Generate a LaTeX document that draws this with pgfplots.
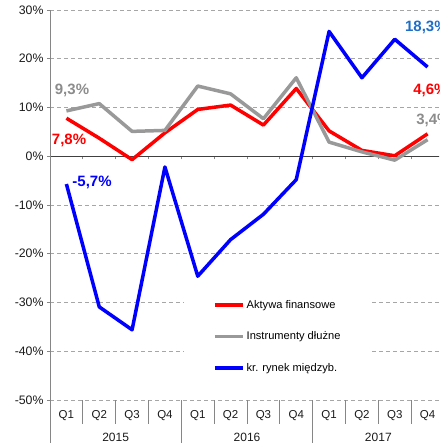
\documentclass[border=0pt]{standalone}
\usepackage{fontspec}
\setmainfont{Liberation Sans}
\usepackage{pgfplots}
\pgfplotsset{compat=1.18}
\definecolor{aktred}{RGB}{255,0,0}
\definecolor{instgray}{RGB}{153,153,153}
\definecolor{rynblue}{RGB}{0,0,255}
\definecolor{lblgray}{RGB}{140,140,140}
\definecolor{lblblue}{RGB}{30,110,200}
\definecolor{gridgray}{RGB}{166,166,166}
\definecolor{axgray}{RGB}{134,134,134}
\definecolor{txt}{RGB}{26,26,26}

\begin{document}
\begin{tikzpicture}[x=1pt,y=1pt]
\useasboundingbox (0,0) rectangle (439,443);
\clip (0,0) rectangle (439,443);
\begin{axis}[
  at={(50pt,43pt)}, anchor=south west,
  width=394pt, height=390pt, scale only axis,
  xmin=0.5, xmax=12.5, ymin=-50, ymax=30,
  axis x line*=middle, axis y line*=left,
  x axis line style={draw=black!75, line width=1pt},
  y axis line style={draw=axgray, line width=1pt},
  xtick={0.5,1.5,...,12.5}, xticklabels={},
  xtick align=outside,
  ytick={-50,-40,...,30},
  yticklabels={-50\%,-40\%,-30\%,-20\%,-10\%,0\%,10\%,20\%,30\%},
  ytick align=outside,
  major tick length=3pt,
  tick style={draw=axgray, line width=0.8pt},
  ymajorgrids,
  grid style={draw=gridgray, line width=0.9pt, dash pattern=on 4pt off 3pt},
  yticklabel style={font=\fontsize{12.3}{14}\selectfont, text=txt},
  clip=false,
  legend style={at={(rel axis cs:0.340,0.287)}, anchor=north west,
    draw=none, fill=white, font=\fontsize{11.1}{13}\selectfont,
    inner xsep=29pt, inner ysep=10pt, row sep=18pt},
  legend cell align=left,
  legend image code/.code={\draw[#1] (0pt,0pt) -- (28pt,0pt);},
  every axis plot/.append style={line width=3.5pt, line join=round},
]
\addplot[aktred] coordinates {
  (1,7.8) (2,3.7) (3,-0.7) (4,4.8) (5,9.6) (6,10.5)
  (7,6.4) (8,13.9) (9,5.2) (10,1.2) (11,0.1) (12,4.6)
};
\addlegendentry{Aktywa finansowe}
\addplot[instgray] coordinates {
  (1,9.3) (2,10.8) (3,5.1) (4,5.3) (5,14.4) (6,12.8)
  (7,7.7) (8,16.1) (9,2.9) (10,0.9) (11,-0.8) (12,3.4)
};
\addlegendentry{Instrumenty dłużne}
\addplot[rynblue] coordinates {
  (1,-5.7) (2,-30.9) (3,-35.6) (4,-2.2) (5,-24.6) (6,-17.1)
  (7,-11.9) (8,-4.8) (9,25.6) (10,16.1) (11,24.0) (12,18.3)
};
\addlegendentry{kr. rynek międzyb.}

% value labels
\begin{scope}[font=\bfseries\fontsize{15}{17}\selectfont]
\node[text=lblgray] at (axis cs:1.17,13.5) {9,3\%};
\node[text=aktred] at (axis cs:1.08,3.3) {7,8\%};
\node[text=rynblue] at (axis cs:1.78,-5.3) {-5,7\%};
\node[text=lblblue, anchor=west, inner xsep=0pt] at (axis cs:11.31,26.5) {18,3\%};
\node[text=aktred, anchor=west, inner xsep=0pt] at (axis cs:11.56,13.5) {4,6\%};
\node[text=lblgray, anchor=west, inner xsep=0pt] at (axis cs:11.65,7.4) {3,4\%};
\end{scope}

% category axis below the plot
\begin{scope}[draw=axgray, line width=1pt]
\draw (axis cs:1.5,-50) -- ++(0pt,-24pt);
\draw (axis cs:2.5,-50) -- ++(0pt,-24pt);
\draw (axis cs:3.5,-50) -- ++(0pt,-24pt);
\draw (axis cs:5.5,-50) -- ++(0pt,-24pt);
\draw (axis cs:6.5,-50) -- ++(0pt,-24pt);
\draw (axis cs:7.5,-50) -- ++(0pt,-24pt);
\draw (axis cs:9.5,-50) -- ++(0pt,-24pt);
\draw (axis cs:10.5,-50) -- ++(0pt,-24pt);
\draw (axis cs:11.5,-50) -- ++(0pt,-24pt);
\draw (axis cs:0.5,-50) -- ++(0pt,-50pt);
\draw (axis cs:4.5,-50) -- ++(0pt,-50pt);
\draw (axis cs:8.5,-50) -- ++(0pt,-50pt);
\draw (axis cs:12.5,-50) -- ++(0pt,-50pt);
\end{scope}
\begin{scope}[font=\fontsize{11.5}{13}\selectfont, text=txt]
\node at ([yshift=-16pt]axis cs:1,-50) {Q1};
\node at ([yshift=-16pt]axis cs:2,-50) {Q2};
\node at ([yshift=-16pt]axis cs:3,-50) {Q3};
\node at ([yshift=-16pt]axis cs:4,-50) {Q4};
\node at ([yshift=-16pt]axis cs:5,-50) {Q1};
\node at ([yshift=-16pt]axis cs:6,-50) {Q2};
\node at ([yshift=-16pt]axis cs:7,-50) {Q3};
\node at ([yshift=-16pt]axis cs:8,-50) {Q4};
\node at ([yshift=-16pt]axis cs:9,-50) {Q1};
\node at ([yshift=-16pt]axis cs:10,-50) {Q2};
\node at ([yshift=-16pt]axis cs:11,-50) {Q3};
\node at ([yshift=-16pt]axis cs:12,-50) {Q4};
\end{scope}
\begin{scope}[font=\fontsize{12}{14}\selectfont, text=txt]
\node at ([yshift=-37pt]axis cs:2.5,-50) {2015};
\node at ([yshift=-37pt]axis cs:6.5,-50) {2016};
\node at ([yshift=-37pt]axis cs:10.5,-50) {2017};
\end{scope}
\end{axis}
\end{tikzpicture}
\end{document}
